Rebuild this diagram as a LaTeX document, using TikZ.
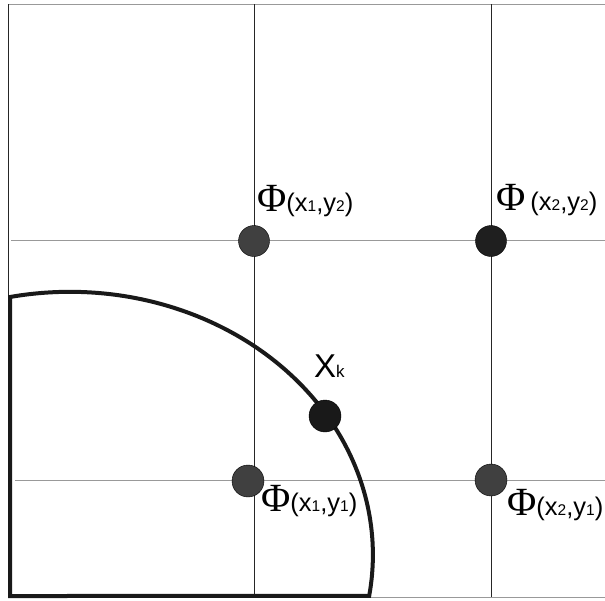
\documentclass[tikz,border=0pt]{standalone}
\usepackage{fontspec}
\setmainfont{Liberation Sans}
\newfontfamily\phifont{Liberation Serif}
\usetikzlibrary{positioning}

% label text: big Phi, then the index pair with small digits
\newcommand{\phiof}[3]{{\phifont\fontsize{40}{40}\selectfont Φ}#3{\fontsize{25.5}{25.5}\selectfont (x{\fontsize{15.5}{15.5}\selectfont #1},y{\fontsize{15.5}{15.5}\selectfont #2})}}

\begin{document}
\begin{tikzpicture}[x=1pt, y=-1pt,
    vline/.style={black!85, line width=0.9pt},
    hline/.style={gray!80, line width=1.1pt},
    gridpt/.style={circle, draw=black, line width=0.4pt, fill=#1, minimum size=31pt, inner sep=0pt},
    lab/.style={anchor=base west, inner sep=0pt}]
    \useasboundingbox (0,0) rectangle (605,600);

    % Draw the frame
    \draw[gray!80, line width=1pt] (8,4) -- (605,4);
    \draw[gray!80, line width=1pt] (8,597) -- (605,597);
    \draw[black!85, line width=0.9pt] (8,4) -- (8,597);

    % Draw the grid lines
    \foreach \x in {254,491} \draw[vline] (\x,4) -- (\x,597);
    \draw[hline] (11,240.5) -- (605,240.5);
    \draw[hline] (15,480.5) -- (605,480.5);

    % Draw the boundary
    \draw[black!90, line width=4pt, line join=miter]
        (10,596) -- (10,297) arc[start angle=-101.4, end angle=9, x radius=303, y radius=263] -- cycle;

    % Grid points
    \node[gridpt=black!75] (p12) at (254,241) {};
    \node[gridpt=black!88] (p22) at (491,241) {};
    \node[gridpt=black!75, minimum size=32pt] (p11) at (248,481) {};
    \node[gridpt=black!75, minimum size=32pt] (p21) at (491,480) {};
    \node[gridpt=black!90, minimum size=32pt] (xk) at (325,416) {};

    % Labels
    \node[lab] (l12) at (257,211) {\phiof{1}{2}{}};
    \node[lab] (l22) at (496,210) {\phiof{2}{2}{\hspace{5pt}}};
    \node[lab] (l11) at (261,511) {\phiof{1}{1}{}};
    \node[lab] (l21) at (507,515) {\phiof{2}{1}{}};
    \node[lab] (lxk) at (314,377) {\fontsize{33}{33}\selectfont X{\fontsize{17}{17}\selectfont k}};
\end{tikzpicture}
\end{document}
